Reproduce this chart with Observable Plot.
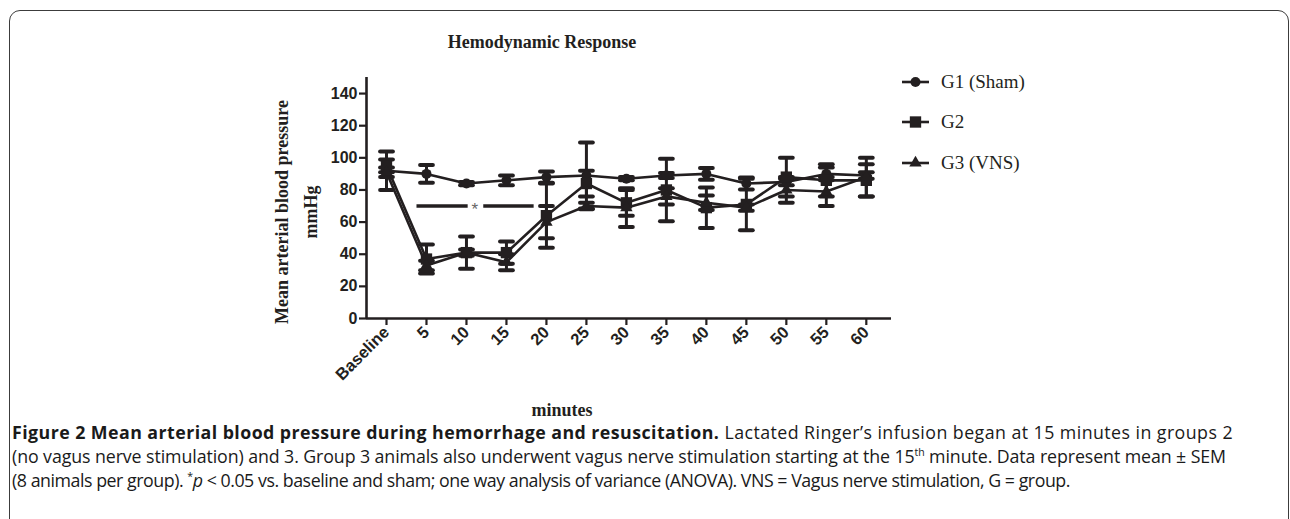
<!DOCTYPE html>
<html><head><meta charset="utf-8">
<script src="https://cdn.jsdelivr.net/npm/d3@7"></script>
<script src="https://cdn.jsdelivr.net/npm/@observablehq/plot@0.6"></script>
<style>
body{margin:0;background:#fff;width:1290px;height:519px;overflow:hidden;position:relative;color:#231f20}
#frame{position:absolute;left:9px;top:10px;width:1280px;height:600px;border:1.5px solid #3c3c3c;border-radius:11px;box-sizing:border-box}
#chart{position:absolute;left:0;top:0}
.serif{font-family:"Liberation Serif","Times New Roman",serif}
#title{position:absolute;left:542px;top:42px;transform:translate(-50%,-50%);font-weight:bold;font-size:18px;white-space:nowrap}
#ylab{position:absolute;left:297px;top:212px;transform:translate(-50%,-50%) rotate(-90deg);font-weight:bold;font-size:18px;line-height:29px;text-align:center;white-space:nowrap}
#xlab{position:absolute;left:562px;top:410px;transform:translate(-50%,-50%);font-weight:bold;font-size:18px;white-space:nowrap}
#legend{position:absolute;left:902px;top:0}
.lg{position:absolute;left:0;display:flex;align-items:center;white-space:nowrap;font-size:19px;transform:translateY(-50%)}
.lg svg{margin-right:12px}
#caption{position:absolute;left:12px;top:420px;font-family:"Open Sans","Noto Sans",sans-serif;font-size:17.8px;line-height:24px;white-space:nowrap;color:#1a1a1a}
#caption .ln{display:inline-block}
#caption b{font-weight:700}
sup{font-size:10.5px;line-height:0}
</style></head><body>
<div id="frame"></div>
<div id="chart"></div>
<div id="title" class="serif">Hemodynamic Response</div>
<div id="ylab" class="serif">Mean arterial blood pressure<br>mmHg</div>
<div id="xlab" class="serif">minutes</div>
<div id="legend" class="serif"></div>
<div id="caption"></div>
<script>
// ---- data ----
const timeLabels = ["Baseline","5","10","15","20","25","30","35","40","45","50","55","60"];
const g1Mean = [92, 90, 84, 86, 88, 89, 87, 89, 90, 84, 85, 90, 89];
const g1Sem  = [12, 5.5, 1, 3, 3.5, 20.5, 1, 1.5, 3.7, 3.7, 2, 4, 2];
const g2Mean = [95, 37, 41, 41, 64, 84, 72, 80, 69, 71, 88, 86, 86];
const g2Sem  = [4, 9, 10, 7, 20, 8, 8, 19.5, 12.6, 16, 12, 10, 10];
const g3Mean = [91, 33, 41, 35, 60, 70, 69, 76, 72, 69, 80, 79, 88];
const g3Sem  = [3, 3, 2, 5, 10, 2, 12, 5, 4.5, 2, 8, 9, 12];
const groupNames = ["G1 (Sham)", "G2", "G3 (VNS)"];
const groupSymbols = ["circle", "square", "triangle"];
const yTicks = [0, 20, 40, 60, 80, 100, 120, 140];
const sigSegments = [[0.75, 2.03], [2.42, 3.68]];
const sigLevel = 70;
const sigStarPos = 2.21;

const ink = "#231f20";
const means = [g1Mean, g2Mean, g3Mean];
const sems = [g1Sem, g2Sem, g3Sem];
const rows = [];
groupNames.forEach((g, gi) => timeLabels.forEach((t, i) => rows.push({group: g, gi, i, v: means[gi][i], s: sems[gi][i]})));
const capHalf = 0.16;
const dotR = [5, 6.4, 4.6];
const sansTick = "Liberation Sans, Arial, sans-serif";

const marks = [];
// error bars
marks.push(Plot.ruleX(rows, {x: "i", y1: d => d.v - d.s, y2: d => d.v + d.s, stroke: ink, strokeWidth: 3}));
marks.push(Plot.link(rows, {x1: d => d.i - capHalf, x2: d => d.i + capHalf, y1: d => d.v + d.s, y2: d => d.v + d.s, stroke: ink, strokeWidth: 4, strokeLinecap: "round"}));
marks.push(Plot.link(rows, {x1: d => d.i - capHalf, x2: d => d.i + capHalf, y1: d => d.v - d.s, y2: d => d.v - d.s, stroke: ink, strokeWidth: 4, strokeLinecap: "round"}));
// lines
marks.push(Plot.line(rows, {x: "i", y: "v", z: "group", stroke: ink, strokeWidth: 2.6}));
// markers
groupNames.forEach((g, gi) => {
  marks.push(Plot.dot(rows.filter(d => d.gi === gi), {x: "i", y: "v", symbol: () => groupSymbols[gi], r: dotR[gi], fill: ink, stroke: "none"}));
});
// significance bar
marks.push(Plot.link(sigSegments, {x1: d => d[0], x2: d => d[1], y1: sigLevel, y2: sigLevel, stroke: ink, strokeWidth: 3.5}));
marks.push(Plot.text([sigStarPos], {x: d => d, y: sigLevel, text: () => "*", fill: "#666", fontSize: 17, dy: 4, fontFamily: sansTick}));
// axes
marks.push(Plot.ruleX([-0.5], {y1: 0, y2: 150, stroke: ink, strokeWidth: 2.6}));
marks.push(Plot.ruleY([0], {x1: -0.5, x2: 12.63, stroke: ink, strokeWidth: 2.6}));
marks.push(Plot.axisY({ticks: yTicks, tickSize: 7, tickPadding: 2, strokeWidth: 2.2, fontSize: 16, fontWeight: "bold", fontFamily: sansTick, fill: ink, stroke: ink, label: null}));
marks.push(Plot.axisX({ticks: d3.range(timeLabels.length), tickFormat: i => timeLabels[i], tickSize: 7, tickPadding: 4, tickRotate: -45, textAnchor: "end", strokeWidth: 2.2, fontSize: 16.5, fontWeight: "bold", fontFamily: sansTick, fill: ink, stroke: ink, label: null}));

const chart = Plot.plot({
  width: 1290, height: 400,
  marginLeft: 366, marginRight: 399, marginTop: 77, marginBottom: 82,
  x: {type: "linear", domain: [-0.5, 12.63]},
  y: {domain: [0, 150]},
  style: {background: "transparent", overflow: "visible"},
  marks
});
document.getElementById("chart").appendChild(chart);

// legend
const legendY = [82, 122, 163];
const lg = document.getElementById("legend");
groupNames.forEach((g, gi) => {
  const div = document.createElement("div");
  div.className = "lg";
  div.style.top = legendY[gi] + "px";
  const sym = d3.symbol(d3[{circle: "symbolCircle", square: "symbolSquare", triangle: "symbolTriangle"}[groupSymbols[gi]]], Math.PI * dotR[gi] * dotR[gi])();
  div.innerHTML = `<svg width="27" height="16" viewBox="-13.5 -8 27 16"><line x1="-13.5" x2="13.5" y1="0" y2="0" stroke="${ink}" stroke-width="2.6"/><path d="${sym}" fill="${ink}"/></svg><span>${g}</span>`;
  lg.appendChild(div);
});

// caption
const captionLines = [
  `<b>Figure 2 Mean arterial blood pressure during hemorrhage and resuscitation.</b> Lactated Ringer’s infusion began at 15 minutes in groups 2`,
  `(no vagus nerve stimulation) and 3. Group 3 animals also underwent vagus nerve stimulation starting at the 15<sup>th</sup> minute. Data represent mean ± SEM`,
  `(8 animals per group). <sup>*</sup><i>p</i> &lt; 0.05 vs. baseline and sham; one way analysis of variance (ANOVA). VNS = Vagus nerve stimulation, G = group.`
];
const captionRight = [1233, 1226, 1070];
const cap = document.getElementById("caption");
cap.innerHTML = captionLines.map(l => `<span class="ln">${l}</span>`).join("<br>");
cap.querySelectorAll(".ln").forEach((el, k) => {
  const w = el.getBoundingClientRect().width;
  const n = el.textContent.length;
  const target = captionRight[k] - 12;
  el.style.letterSpacing = ((target - w) / n) + "px";
});
</script>
</body></html>
